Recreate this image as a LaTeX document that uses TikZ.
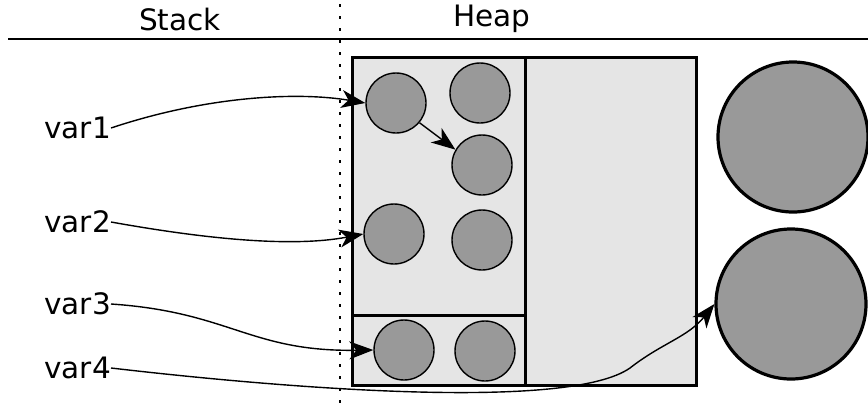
\documentclass[tikz,border=0pt]{standalone}
\usepackage{fontspec}
\setmainfont{DejaVu Sans}
\usetikzlibrary{arrows.meta}
\definecolor{boxgray}{HTML}{E5E5E5}
\definecolor{objgray}{HTML}{999999}
\tikzset{
  lbl/.style={font=\fontsize{29.5}{34}\selectfont, inner sep=0pt},
  obj/.style={circle, draw=black, fill=objgray, line width=1.4pt, minimum size=60pt, inner sep=0pt},
  bigobj/.style={circle, draw=black, fill=objgray, line width=3.2pt, minimum size=150pt, inner sep=0pt},
  ptr/.style={line width=1.4pt, -{Stealth[length=24pt,width=18pt,inset=7pt]}},
  region/.style={draw=black, fill=boxgray, line width=3pt}
}
\begin{document}
\begin{tikzpicture}[x=1pt,y=-1pt]
\useasboundingbox (0,0) rectangle (868,405);
% header
\node[lbl] (stack) at (180,19) {Stack};
\node[lbl] (heap) at (492,19) {Heap};
\draw[line width=1.3pt] (8,39) -- (868,39);
% heap regions
\draw[region] (352,57) rectangle (696,385);
\draw[line width=3pt] (525,57) -- (525,385);
\draw[line width=3pt] (352,315) -- (525,315);
% separator
\draw[line width=2.6pt, dash pattern=on 2.6pt off 9.4pt] (340,4) -- (340,404);
% objects
\node[obj] (c1) at (396,103) {};
\node[obj] (c2) at (480,93) {};
\node[obj] (c3) at (482,165) {};
\node[obj] (c4) at (394,234) {};
\node[obj] (c5) at (482,240) {};
\node[obj] (c6) at (404,350) {};
\node[obj] (c7) at (485,351) {};
\node[bigobj] (b1) at (793,137) {};
\node[bigobj] (b2) at (791,304) {};
% labels
\node[lbl, anchor=east] (v1) at (111,128) {var1};
\node[lbl, anchor=east] (v2) at (111,222) {var2};
\node[lbl, anchor=east] (v3) at (111,304) {var3};
\node[lbl, anchor=east] (v4) at (111,368) {var4};
% pointers
\draw[ptr] (v1.east) .. controls (210,95) and (300,92) .. (c1.west);
\draw[ptr] (c1.-40) -- (c3.150);
\draw[ptr] (v2.east) .. controls (200,238) and (290,248) .. (c4.west);
\draw[ptr] (v3.east) .. controls (230,312) and (250,352) .. (c6.west);
\coordinate (m4) at (630,368);
\draw[ptr] (v4.east) .. controls (300,390) and (570,410) .. (m4) .. controls (662,343) and (688,337) .. (b2.west);
\end{tikzpicture}
\end{document}
